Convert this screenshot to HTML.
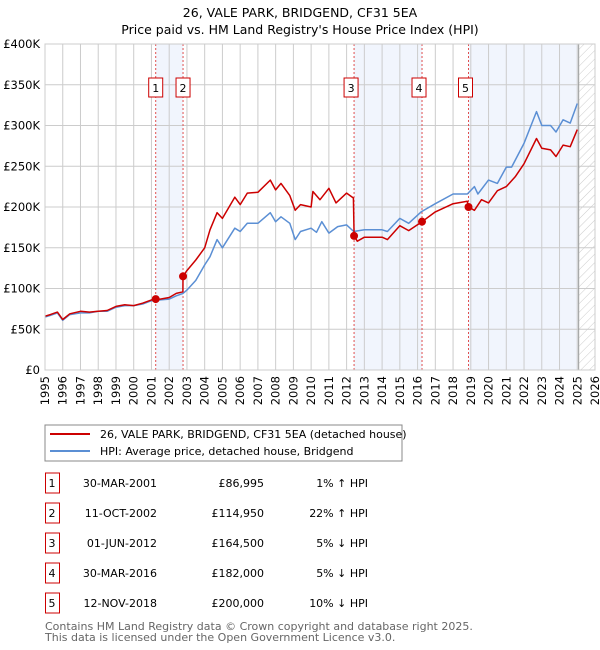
<!DOCTYPE html>
<html><head><meta charset="utf-8">
<style>
body{margin:0;background:#fff;font-family:"Liberation Sans","DejaVu Sans",sans-serif;}
#wrap{position:relative;width:600px;height:650px;overflow:hidden;}
svg text{font-family:"DejaVu Sans","Liberation Sans",sans-serif;}
</style></head>
<body>
<div id="wrap">
<svg id="svg" width="600" height="650">
<text x="300" y="17" text-anchor="middle" font-size="12.5" fill="#000">26, VALE PARK, BRIDGEND, CF31 5EA</text>
<text x="300" y="34" text-anchor="middle" font-size="12.5" fill="#000">Price paid vs. HM Land Registry's House Price Index (HPI)</text>
<defs><pattern id="hatch" width="6" height="6" patternUnits="userSpaceOnUse" patternTransform="rotate(45)"><line x1="0" y1="0" x2="0" y2="6" stroke="#ccc" stroke-width="1"/></pattern></defs>
<g id="plot"></g>
<rect x="45" y="425" width="357" height="36" fill="#fff" stroke="#888"/>
<line x1="50" y1="434" x2="90" y2="434" stroke="#cc0000" stroke-width="2"/>
<text x="100" y="438" font-size="11">26, VALE PARK, BRIDGEND, CF31 5EA (detached house)</text>
<line x1="50" y1="451" x2="90" y2="451" stroke="#5b8fd4" stroke-width="2"/>
<text x="100" y="455" font-size="11">HPI: Average price, detached house, Bridgend</text>
<g id="table"></g>
<text x="45" y="630" font-size="11" fill="#666">Contains HM Land Registry data © Crown copyright and database right 2025.</text>
<text x="45" y="641" font-size="11" fill="#666">This data is licensed under the Open Government Licence v3.0.</text>
</svg>
</div>
<script>
const yearTicks=[1995,1996,1997,1998,1999,2000,2001,2002,2003,2004,2005,2006,2007,2008,2009,2010,2011,2012,2013,2014,2015,2016,2017,2018,2019,2020,2021,2022,2023,2024,2025,2026];
const valueTicks=[0,50000,100000,150000,200000,250000,300000,350000,400000];
const valueTickLabels=["£0","£50K","£100K","£150K","£200K","£250K","£300K","£350K","£400K"];
const hpiDates=[1995,1995.3,1995.7,1996,1996.4,1997,1997.5,1998,1998.5,1999,1999.5,2000,2000.5,2001,2001.5,2002,2002.4,2002.78,2003,2003.5,2004,2004.3,2004.7,2005,2005.7,2006,2006.4,2007,2007.7,2008,2008.3,2008.8,2009.1,2009.4,2010,2010.3,2010.6,2011,2011.5,2012,2012.4,2013,2014,2014.3,2015,2015.5,2016.2,2017,2018,2018.8,2019.2,2019.4,2020,2020.5,2021,2021.3,2022,2022.7,2023,2023.5,2023.8,2024.2,2024.6,2025];
const hpiValues=[65000,67000,70000,61000,68000,70000,70000,72000,72000,77000,79000,79000,81000,85000,86000,87000,91000,94000,98000,110000,129000,139000,160000,150000,174000,170000,180000,180000,193000,182000,188000,180000,160000,170000,174000,169000,182000,168000,176000,178000,170000,172000,172000,170000,186000,180000,194000,204000,216000,216000,225000,216000,233000,229000,249000,249000,278000,317000,300000,300000,292000,307000,303000,327000];
const priceDates=[1995,1995.3,1995.7,1996,1996.4,1997,1997.5,1998,1998.5,1999,1999.5,2000,2000.5,2001,2001.24,2001.5,2002,2002.4,2002.77,2002.78,2003,2003.5,2004,2004.3,2004.7,2005,2005.7,2006,2006.4,2007,2007.7,2008,2008.3,2008.8,2009.1,2009.4,2010,2010.1,2010.5,2011,2011.4,2012,2012.38,2012.42,2012.6,2013,2014,2014.3,2015,2015.5,2016.25,2017,2018,2018.8,2018.87,2019.2,2019.6,2020,2020.5,2021,2021.5,2022,2022.7,2023,2023.5,2023.8,2024.2,2024.6,2025];
const priceValues=[66000,68000,71000,62000,69000,72000,71000,72000,73000,78000,80000,79000,82000,86000,86995,87000,89000,94000,96000,114950,122000,135000,150000,172000,193000,186000,212000,203000,217000,218000,233000,221000,229000,214000,196000,203000,200000,219000,209000,223000,205000,217000,211000,164500,158000,163000,163000,160000,177000,171000,182000,194000,204000,207000,200000,196000,209000,205000,220000,225000,237000,253000,284000,272000,270000,262000,276000,274000,295000];
const saleDates=[2001.24,2002.78,2012.42,2016.25,2018.87];
const salePrices=[86995,114950,164500,182000,200000];
const saleLabels=["1","2","3","4","5"];
const saleDateText=["30-MAR-2001","11-OCT-2002","01-JUN-2012","30-MAR-2016","12-NOV-2018"];
const salePriceText=["£86,995","£114,950","£164,500","£182,000","£200,000"];
const saleHpiText=["1% ↑ HPI","22% ↑ HPI","5% ↓ HPI","5% ↓ HPI","10% ↓ HPI"];
const dataEnd=2025.08;

const NS="http://www.w3.org/2000/svg";
const X0=45,X1=595,Y0=370,Y1=44;
const xs=y=>X0+(y-1995)/(2026-1995)*(X1-X0);
const ys=v=>Y0-v/400000*(Y0-Y1);
function mk(tag,attrs,parent){const e=document.createElementNS(NS,tag);for(const k in attrs)e.setAttribute(k,attrs[k]);parent.appendChild(e);return e;}
const plot=document.getElementById('plot');
// shaded bands
const bands=[[saleDates[0],saleDates[1]],[saleDates[2],saleDates[3]],[saleDates[4],dataEnd]];
bands.forEach((b,i)=>{const r=mk('rect',{x:xs(b[0]),y:Y1,width:xs(b[1])-xs(b[0]),height:Y0-Y1,fill:'#eef3fd',opacity:0.8},plot);

});
const h=mk('rect',{x:xs(dataEnd),y:Y1,width:X1-xs(dataEnd),height:Y0-Y1,fill:'url(#hatch)'},plot);


// grid
yearTicks.forEach(t=>{const l=mk('line',{x1:xs(t),x2:xs(t),y1:Y1,y2:Y0,stroke:'#ccc','stroke-width':1},plot);


const tx=mk('text',{x:0,y:0,'font-size':11.5,'text-anchor':'end',transform:`translate(${xs(t)+4},${Y0+6}) rotate(-90)`},plot);
tx.textContent=t;

});
valueTicks.forEach((v,i)=>{const l=mk('line',{x1:X0,x2:X1,y1:ys(v),y2:ys(v),stroke:'#ccc','stroke-width':1},plot);


const tx=mk('text',{x:40,y:ys(v)+4,'font-size':11.5,'text-anchor':'end'},plot);
tx.textContent=valueTickLabels[i];

});
const el=mk('line',{x1:xs(dataEnd),x2:xs(dataEnd),y1:Y1,y2:Y0,stroke:'#999','stroke-width':1},plot);


// sale vlines & labels
saleDates.forEach((d,i)=>{const l=mk('line',{x1:xs(d),x2:xs(d),y1:Y1,y2:Y0,stroke:'#e05050','stroke-width':1,'stroke-dasharray':'2,2'},plot);


const r=mk('rect',{x:xs(d)-7-(i<2?0:3),y:78,width:14,height:19,fill:'#fff',stroke:'#cc0000'},plot);


const t=mk('text',{x:xs(d)-(i<2?0:3),y:92,'font-size':11,'text-anchor':'middle'},plot);
t.textContent=saleLabels[i];

});
function path(ds,vs,color,name){const d=ds.map((x,i)=>(i?'L':'M')+xs(x).toFixed(1)+','+ys(vs[i]).toFixed(1)).join('');
const p=mk('path',{d:d,fill:'none',stroke:color,'stroke-width':1.5,'stroke-linejoin':'round'},plot);

}
path(hpiDates,hpiValues,'#5b8fd4','hpi-line');
path(priceDates,priceValues,'#cc0000','price-paid-line');
saleDates.forEach((d,i)=>{const c=mk('circle',{cx:xs(d),cy:ys(salePrices[i]),r:4,fill:'#cc0000'},plot);

});
mk('rect',{x:X0,y:Y1,width:X1-X0,height:Y0-Y1,fill:'none',stroke:'#ccc'},plot);
// table
const tb=document.getElementById('table');
saleLabels.forEach((s,i)=>{const cy=483+i*30;
const r=mk('rect',{x:45.5,y:cy-10,width:14,height:20,fill:'#fff',stroke:'#cc0000'},tb);


const cells=[[52,'middle',s],[157,'end',saleDateText[i]],[264,'end',salePriceText[i]],[368,'end',saleHpiText[i]]];
cells.forEach((c,j)=>{const t=mk('text',{x:c[0],y:cy+4,'font-size':11,'text-anchor':c[1]},tb);
t.textContent=c[2];

});});
</script>
</body></html>
